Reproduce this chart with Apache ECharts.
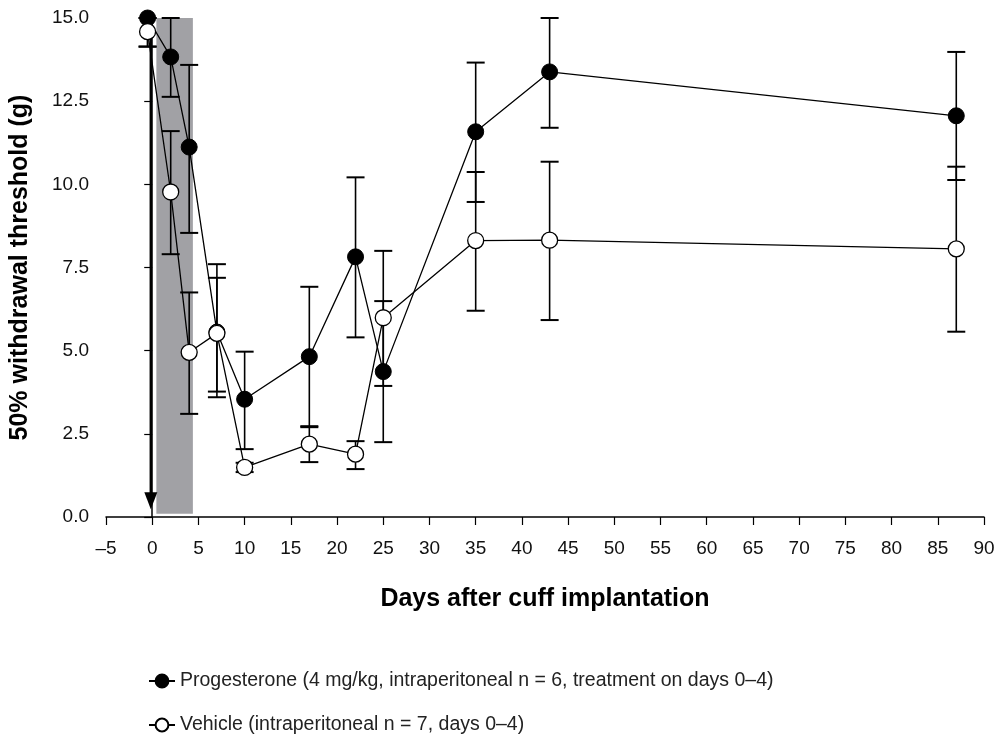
<!DOCTYPE html>
<html>
<head>
<meta charset="utf-8">
<script src="https://cdn.jsdelivr.net/npm/echarts@6/dist/echarts.min.js"></script>
<style>html,body{margin:0;padding:0;background:#fff}#c{width:998px;height:736px}</style>
</head>
<body>
<div id="c"></div>
<script>
var days = [-0.5, 2, 4, 7, 10, 17, 22, 25, 35, 43, 87];
var progMean = [15.0, 13.83, 11.12, 5.56, 3.54, 4.82, 7.82, 4.37, 11.58, 13.38, 12.06];
var progLow  = [14.14, 12.63, 8.54, 3.60, 2.04, 2.70, 5.40, 2.25, 9.47, 11.70, 10.13];
var progHigh = [15.0, 15.0, 13.59, 7.60, 4.97, 6.92, 10.21, 6.49, 13.66, 15.0, 13.98];
var vehMean = [14.59, 9.77, 4.95, 5.52, 1.49, 2.19, 1.89, 5.99, 8.31, 8.32, 8.06];
var vehLow  = [14.14, 7.90, 3.10, 3.77, 1.35, 1.65, 1.44, 3.94, 6.20, 5.92, 5.57];
var vehHigh = [15.0, 11.60, 6.75, 7.19, 1.63, 2.73, 2.28, 8.00, 10.37, 10.68, 10.53];
var yTicks = ['0.0', '2.5', '5.0', '7.5', '10.0', '12.5', '15.0'];
var treatment = [0.45, 4.4];
var arrowX = -0.15, arrowTop = 14.6, arrowTip = 0.23;

var progName = 'Progesterone (4 mg/kg, intraperitoneal n = 6, treatment on days 0\u20134)';
var vehName = 'Vehicle (intraperitoneal n = 7, days 0\u20134)';

function errData(lo, hi) {
  return days.map(function (d, i) { return [d, lo[i], hi[i]]; });
}
function errRender(params, api) {
  var x = api.value(0);
  var lo = api.coord([x, api.value(1)]);
  var hi = api.coord([x, api.value(2)]);
  var hw = 9;
  return {
    type: 'group',
    children: [
      { type: 'line', shape: { x1: lo[0], y1: lo[1], x2: hi[0], y2: hi[1] }, style: { stroke: '#000', lineWidth: 1.6 } },
      { type: 'line', shape: { x1: lo[0] - hw, y1: lo[1], x2: lo[0] + hw, y2: lo[1] }, style: { stroke: '#000', lineWidth: 2 } },
      { type: 'line', shape: { x1: hi[0] - hw, y1: hi[1], x2: hi[0] + hw, y2: hi[1] }, style: { stroke: '#000', lineWidth: 2 } }
    ]
  };
}

var chart = echarts.init(document.getElementById('c'));
var font = 'Liberation Sans, Arial, sans-serif';
var legendBase = {
  orient: 'horizontal', left: 143,
  itemWidth: 26, itemHeight: 16,
  textStyle: { fontFamily: font, fontSize: 19.5, color: '#222' }
};
chart.setOption({
  animation: false,
  backgroundColor: '#fff',
  grid: { left: 106, right: 14, top: 18, bottom: 219 },
  xAxis: {
    type: 'value', min: -5, max: 90, interval: 5,
    name: 'Days after cuff implantation', nameLocation: 'middle', nameGap: 70,
    nameTextStyle: { fontFamily: font, fontSize: 25, fontWeight: 'bold', color: '#000' },
    axisLine: { onZero: false, lineStyle: { color: '#000', width: 1.5 } },
    axisTick: { length: 8, lineStyle: { color: '#000', width: 1.2 } },
    axisLabel: { margin: 22, fontFamily: font, fontSize: 19, color: '#111',
      formatter: function (v) { return v < 0 ? '\u2013' + (-v) : String(v); } },
    splitLine: { show: false }
  },
  yAxis: {
    type: 'value', min: 0, max: 15, interval: 2.5,
    name: '50% withdrawal threshold (g)', nameLocation: 'middle', nameGap: 73,
    nameTextStyle: { fontFamily: font, fontSize: 25, fontWeight: 'bold', color: '#000' },
    axisLine: { show: true, lineStyle: { color: '#000', width: 1.5 } },
    axisTick: { show: true, length: 8, lineStyle: { color: '#000', width: 1.2 } },
    axisLabel: { margin: 17, fontFamily: font, fontSize: 19, color: '#111',
      formatter: function (v) { return yTicks[Math.round(v / 2.5)]; } },
    splitLine: { show: false }
  },
  legend: [
    Object.assign({}, legendBase, { top: 666, data: [progName] }),
    Object.assign({}, legendBase, { top: 710, data: [vehName] })
  ],
  series: [
    {
      type: 'line', name: 'band', data: [], silent: true,
      markArea: { silent: true, itemStyle: { color: '#a1a1a5' },
        data: [[{ coord: [treatment[0], 0.1] }, { coord: [treatment[1], 15] }]] }
    },
    {
      type: 'custom', name: 'arrow', silent: true, z: 3,
      data: [[arrowX, arrowTop, arrowTip]],
      renderItem: function (params, api) {
        var t = api.coord([api.value(0), api.value(1)]);
        var b = api.coord([api.value(0), api.value(2)]);
        return { type: 'group', children: [
          { type: 'line', shape: { x1: t[0], y1: t[1], x2: b[0], y2: b[1] - 14 }, style: { stroke: '#000', lineWidth: 2.5 } },
          { type: 'polygon', shape: { points: [[b[0] - 6.5, b[1] - 17], [b[0] + 6.5, b[1] - 17], [b[0], b[1]]] }, style: { fill: '#000' } }
        ] };
      }
    },
    { type: 'custom', name: 'progErr', silent: true, z: 4, data: errData(progLow, progHigh), renderItem: errRender },
    { type: 'custom', name: 'vehErr', silent: true, z: 4, data: errData(vehLow, vehHigh), renderItem: errRender },
    {
      type: 'line', name: progName, z: 5,
      data: days.map(function (d, i) { return [d, progMean[i]]; }),
      symbol: 'circle', symbolSize: 16, showAllSymbol: true,
      lineStyle: { color: '#000', width: 1.3 },
      itemStyle: { color: '#000', borderColor: '#000', borderWidth: 1 }
    },
    {
      type: 'line', name: vehName, z: 6,
      data: days.map(function (d, i) { return [d, vehMean[i]]; }),
      symbol: 'circle', symbolSize: 16, showAllSymbol: true,
      lineStyle: { color: '#000', width: 1.3 },
      itemStyle: { color: '#fff', borderColor: '#000', borderWidth: 1.3 }
    }
  ]
});
</script>
</body>
</html>
